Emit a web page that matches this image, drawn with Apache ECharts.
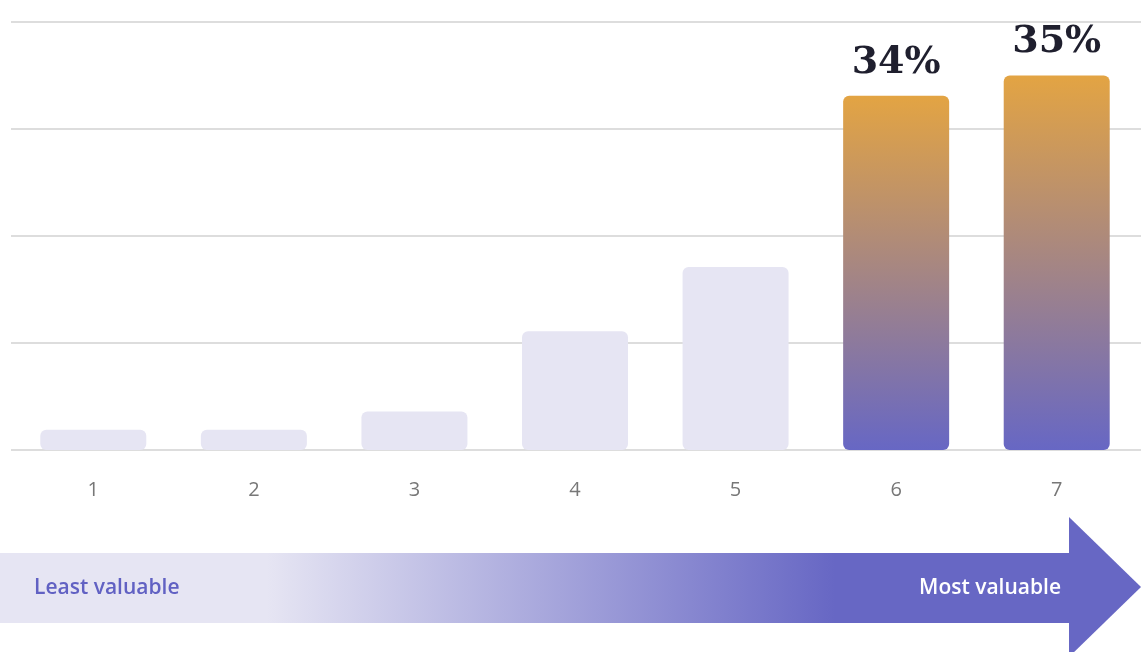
<!DOCTYPE html>
<html>
<head>
<meta charset="utf-8">
<script src="https://cdn.jsdelivr.net/npm/echarts@6/dist/echarts.min.js"></script>
<style>html,body{margin:0;padding:0;background:#fff;}#c{width:1141px;height:652px;}</style>
</head>
<body>
<div id="c"></div>
<script>
const categories = ['1', '2', '3', '4', '5', '6', '7'];
const values = [1.9, 1.9, 3.6, 11.1, 17.1, 33.1, 35.0];
const valueLabels = ['', '', '', '', '', '34%', '35%'];
const highlighted = [false, false, false, false, false, true, true];
const arrowLeftText = 'Least valuable';
const arrowRightText = 'Most valuable';

const chart = echarts.init(document.getElementById('c'));
const hiColor = new echarts.graphic.LinearGradient(0, 0, 0, 1, [
  { offset: 0, color: '#e3a443' },
  { offset: 1, color: '#6767c4' }
]);
const data = values.map((v, i) => ({
  value: v,
  itemStyle: { color: highlighted[i] ? hiColor : '#e6e5f3' },
  label: { show: !!valueLabels[i], formatter: valueLabels[i] }
}));

chart.setOption({
  animation: false,
  grid: [
    { left: 11, right: 0, top: 22, bottom: 202 },
    { left: 13, right: 4, top: 22, bottom: 202 }
  ],
  xAxis: [
    { gridIndex: 0, type: 'category', data: categories, show: false },
    {
      gridIndex: 1, type: 'category', data: categories,
      axisLine: { show: false }, axisTick: { show: false },
      axisLabel: { color: '#777', fontSize: 20, fontFamily: 'Open Sans', margin: 30 }
    }
  ],
  yAxis: [
    {
      gridIndex: 0, type: 'value', min: 0, max: 40, interval: 10,
      axisLabel: { show: false }, axisLine: { show: false }, axisTick: { show: false },
      splitLine: { lineStyle: { color: '#dddddd', width: 2 } }
    },
    {
      gridIndex: 1, type: 'value', min: 0, max: 40, interval: 10,
      show: false, splitLine: { show: false }
    }
  ],
  series: [{
    type: 'bar', xAxisIndex: 1, yAxisIndex: 1, barWidth: 106,
    data: data,
    itemStyle: { borderRadius: 6 },
    label: {
      position: 'top', distance: 14,
      fontFamily: 'DejaVu Serif', fontWeight: 'bold', fontSize: 38, color: '#1f1f2e'
    }
  }],
  graphic: [
    {
      type: 'rect', left: 0, top: 553, z: 1,
      shape: { width: 1070, height: 70 },
      style: {
        fill: new echarts.graphic.LinearGradient(0, 0, 1, 0, [
          { offset: 0, color: '#e6e5f3' },
          { offset: 0.25, color: '#e6e5f3' },
          { offset: 0.78, color: '#6767c4' },
          { offset: 1, color: '#6767c4' }
        ])
      }
    },
    {
      type: 'polygon', z: 1,
      shape: { points: [[1069, 517], [1141, 587], [1069, 657]] },
      style: { fill: '#6767c4' }
    },
    {
      type: 'text', z: 2, x: 34, y: 588,
      style: { text: arrowLeftText, fill: '#6161c3', font: '600 21px "Open Sans"', textAlign: 'left', textVerticalAlign: 'middle' }
    },
    {
      type: 'text', z: 2, x: 1061, y: 588,
      style: { text: arrowRightText, fill: '#ffffff', font: '600 21px "Open Sans"', textAlign: 'right', textVerticalAlign: 'middle' }
    }
  ]
});
</script>
</body>
</html>
